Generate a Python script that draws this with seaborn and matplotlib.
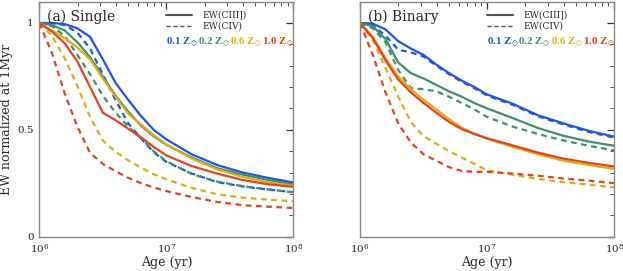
import numpy as np
import pandas as pd
import seaborn as sns
import matplotlib.pyplot as plt
from matplotlib.ticker import FixedLocator, MultipleLocator, NullFormatter

sns.set_style('white')
plt.rcParams['font.family'] = ['DejaVu Serif']
plt.rcParams['mathtext.fontset'] = 'dejavuserif'

log_age = [6.0, 6.1, 6.2, 6.3, 6.4, 6.5, 6.6, 6.7, 6.8, 6.9, 7.0, 7.2, 7.4, 7.6, 7.8, 8.0]
metals = ['0.1', '0.2', '0.6', '1.0']

# (a) single stars
single_ciii_01 = [1.0, 1.0, 0.995, 0.975, 0.935, 0.83, 0.72, 0.64, 0.565, 0.50, 0.455, 0.385, 0.335, 0.30, 0.275, 0.253]
single_ciii_02 = [1.0, 0.99, 0.965, 0.91, 0.84, 0.75, 0.66, 0.585, 0.52, 0.47, 0.43, 0.37, 0.32, 0.29, 0.265, 0.245]
single_ciii_06 = [1.0, 0.965, 0.93, 0.885, 0.83, 0.74, 0.655, 0.575, 0.525, 0.475, 0.432, 0.365, 0.315, 0.28, 0.255, 0.238]
single_ciii_10 = [1.0, 0.96, 0.905, 0.82, 0.70, 0.58, 0.545, 0.505, 0.465, 0.42, 0.38, 0.33, 0.295, 0.265, 0.245, 0.233]
single_civ_01 = [1.0, 1.0, 0.99, 0.955, 0.88, 0.76, 0.64, 0.53, 0.46, 0.395, 0.35, 0.295, 0.255, 0.235, 0.22, 0.208]
single_civ_02 = [1.0, 0.985, 0.94, 0.85, 0.76, 0.66, 0.58, 0.515, 0.46, 0.40, 0.353, 0.293, 0.257, 0.236, 0.221, 0.207]
single_civ_06 = [1.0, 0.94, 0.835, 0.705, 0.56, 0.45, 0.397, 0.357, 0.323, 0.292, 0.268, 0.228, 0.198, 0.182, 0.173, 0.165]
single_civ_10 = [1.0, 0.86, 0.67, 0.515, 0.392, 0.34, 0.306, 0.275, 0.25, 0.23, 0.213, 0.185, 0.162, 0.147, 0.14, 0.134]

# (b) binary stars
binary_ciii_01 = [1.0, 0.997, 0.97, 0.915, 0.88, 0.85, 0.805, 0.765, 0.73, 0.70, 0.665, 0.622, 0.568, 0.53, 0.495, 0.468]
binary_ciii_02 = [1.0, 0.985, 0.925, 0.815, 0.765, 0.74, 0.71, 0.68, 0.655, 0.625, 0.60, 0.555, 0.508, 0.472, 0.445, 0.425]
binary_ciii_06 = [1.0, 0.935, 0.835, 0.75, 0.69, 0.64, 0.595, 0.55, 0.51, 0.482, 0.458, 0.42, 0.385, 0.355, 0.335, 0.317]
binary_ciii_10 = [1.0, 0.93, 0.825, 0.735, 0.675, 0.625, 0.58, 0.537, 0.503, 0.48, 0.46, 0.427, 0.393, 0.365, 0.345, 0.328]
binary_civ_01 = [1.0, 0.99, 0.94, 0.875, 0.862, 0.843, 0.80, 0.76, 0.725, 0.695, 0.66, 0.617, 0.563, 0.525, 0.49, 0.463]
binary_civ_02 = [1.0, 0.975, 0.91, 0.78, 0.695, 0.69, 0.68, 0.655, 0.625, 0.595, 0.56, 0.515, 0.48, 0.45, 0.425, 0.403]
binary_civ_06 = [1.0, 0.92, 0.79, 0.655, 0.535, 0.47, 0.435, 0.40, 0.37, 0.34, 0.31, 0.29, 0.27, 0.255, 0.243, 0.23]
binary_civ_10 = [1.0, 0.85, 0.675, 0.53, 0.44, 0.385, 0.355, 0.325, 0.307, 0.303, 0.303, 0.295, 0.285, 0.272, 0.262, 0.25]

palette = {'0.1': '#1f55e0', '0.2': '#3f8f6c', '0.6': '#dcae16', '1.0': '#e5421e'}


def long_table(ciii, civ):
    rows = []
    for z, c3, c4 in zip(metals, ciii, civ):
        for a, v3, v4 in zip(log_age, c3, c4):
            rows.append({'age': 10 ** a, 'ew': v3, 'Z': z, 'line': 'CIII]'})
            rows.append({'age': 10 ** a, 'ew': v4, 'Z': z, 'line': 'CIV'})
    return pd.DataFrame(rows)


single = long_table([single_ciii_01, single_ciii_02, single_ciii_06, single_ciii_10],
                    [single_civ_01, single_civ_02, single_civ_06, single_civ_10])
binary = long_table([binary_ciii_01, binary_ciii_02, binary_ciii_06, binary_ciii_10],
                    [binary_civ_01, binary_civ_02, binary_civ_06, binary_civ_10])

fig = plt.figure(figsize=(6.23, 2.71), dpi=100)
ax1 = fig.add_axes([0.063, 0.127, 0.408, 0.867])
ax2 = fig.add_axes([0.578, 0.127, 0.408, 0.867])

for ax, df, title in [(ax1, single, '(a) Single'), (ax2, binary, '(b) Binary')]:
    sns.lineplot(data=df, x='age', y='ew', hue='Z', style='line', palette=palette,
                 dashes={'CIII]': '', 'CIV': (2.6, 2.0)}, style_order=['CIII]', 'CIV'],
                 linewidth=1.6, legend=False, ax=ax, sort=True)
    ax.set_xscale('log')
    ax.set_xlim(1e6, 1e8)
    ax.set_ylim(0, 1.1)
    ax.set_xlabel('Age (yr)', fontsize=9, labelpad=1)
    ax.set_ylabel('')
    ax.yaxis.set_major_locator(FixedLocator([0, 0.5, 1]))
    ax.yaxis.set_minor_locator(MultipleLocator(0.1))
    ax.set_yticklabels(['0', '0.5', '1'])
    ax.xaxis.set_minor_formatter(NullFormatter())
    ax.tick_params(which='both', direction='in', top=True, right=True,
                   labelsize=7.5, color='#333333')
    ax.tick_params(axis='x', pad=4)
    ax.tick_params(axis='y', pad=4)
    ax.tick_params(which='major', length=5, width=0.9)
    ax.tick_params(which='minor', length=3, width=0.6)
    for s in ax.spines.values():
        s.set_color('#888888')
        s.set_linewidth(1.0)

    ax.text(0.03, 0.965, title, transform=ax.transAxes, fontsize=10, va='top', ha='left')
    ax.plot([0.50, 0.60], [0.943, 0.943], transform=ax.transAxes, color='#555555', lw=1.5)
    ax.plot([0.50, 0.60], [0.897, 0.897], transform=ax.transAxes, color='#555555', lw=1.0,
            dashes=(3, 2))
    ax.text(0.642, 0.943, 'EW(CIII])', transform=ax.transAxes, fontsize=6.5, va='center')
    ax.text(0.642, 0.897, 'EW(CIV)', transform=ax.transAxes, fontsize=6.5, va='center')
    for xpos, z in zip([0.50, 0.623, 0.75, 0.878], metals):
        ax.text(xpos, 0.826, z + r' Z$_\odot$', transform=ax.transAxes, fontsize=7.8,
                color=palette[z], fontweight='bold', va='center',
                family=['Liberation Serif'], math_fontfamily='stix')

ax2.set_yticklabels([])
ax1.set_ylabel('EW normalized at 1Myr', fontsize=9, labelpad=3)

fig.savefig('out.png', dpi=100)
